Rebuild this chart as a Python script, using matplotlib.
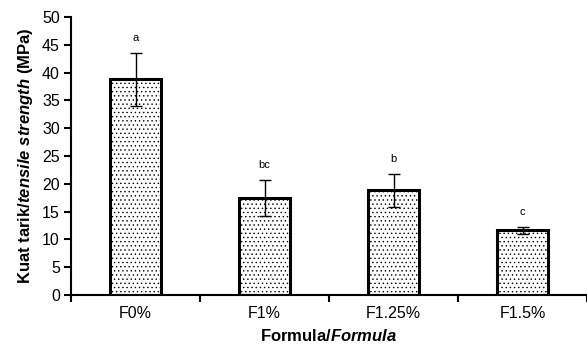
import numpy as np
import matplotlib
matplotlib.use('Agg')
import matplotlib.pyplot as plt

plt.rcParams['font.family'] = 'Liberation Sans'
plt.rcParams['mathtext.fontset'] = 'custom'
plt.rcParams['mathtext.it'] = 'Liberation Sans:italic:bold'
plt.rcParams['mathtext.rm'] = 'Liberation Sans:bold'
plt.rcParams['hatch.linewidth'] = 0.5

# Data
formulas = ['F0%', 'F1%', 'F1.25%', 'F1.5%']
strength = [38.8, 17.4, 18.8, 11.6]
errors = [4.8, 3.2, 2.9, 0.55]
letters = ['a', 'bc', 'b', 'c']

fig = plt.figure(figsize=(5.87, 3.49), dpi=100)
ax = fig.add_axes([0.121, 0.155, 0.879, 0.796])

x = np.arange(len(formulas))
ax.bar(x, strength, width=0.4, color='white', edgecolor='black',
       linewidth=2.2, hatch='....', zorder=2)
ax.errorbar(x, strength, yerr=errors, fmt='none', ecolor='black',
            elinewidth=1, capsize=4, capthick=1, zorder=3)
for xi, s, e, l in zip(x, strength, errors, letters):
    ax.text(xi, s + e + 1.8, l, ha='center', va='bottom', fontsize=8)

ax.set_ylim(0, 50)
ax.set_xlim(-0.5, 3.44)
ax.set_yticks(np.arange(0, 51, 5))
ax.set_xticks(x)
ax.set_xticklabels(formulas)
ax.set_xticks(np.arange(-0.5, 4, 1), minor=True)
ax.tick_params(axis='x', which='major', length=0, pad=8, labelsize=11.5)
ax.tick_params(axis='x', which='minor', length=5, width=1.5, direction='out')
ax.tick_params(axis='y', length=5, width=1.5, labelsize=11.5, pad=3)

for side in ['top', 'right']:
    ax.spines[side].set_visible(False)
for side in ['left', 'bottom']:
    ax.spines[side].set_linewidth(1.5)

ax.set_ylabel(r'Kuat tarik/$\mathit{tensile\ strength}$ (MPa)',
              fontweight='bold', fontsize=12, labelpad=5)
ax.set_xlabel(r'Formula/$\mathit{Formula}$', fontweight='bold',
              fontsize=12, labelpad=5)

plt.savefig('out.png', dpi=100)
